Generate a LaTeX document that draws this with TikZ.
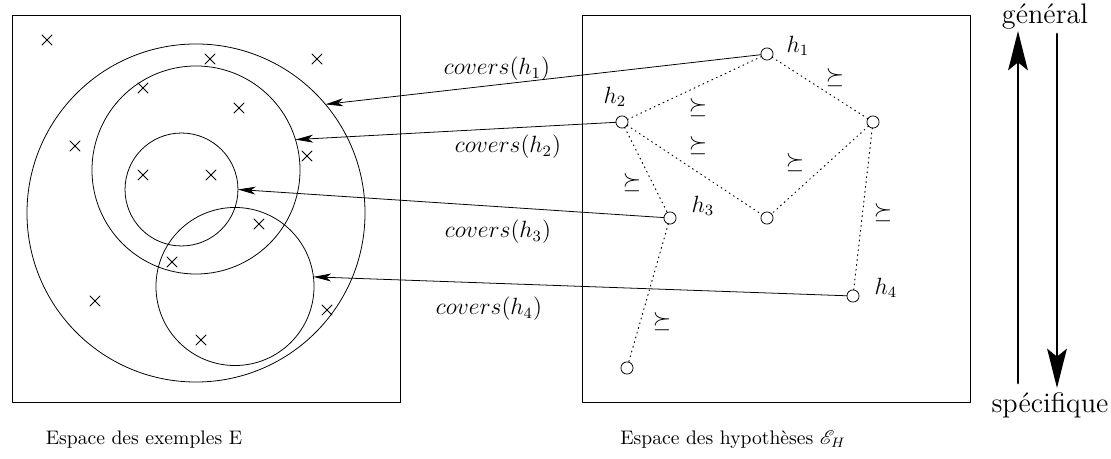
\documentclass[tikz,border=0pt]{standalone}
\usepackage{amssymb}
\usepackage{mathrsfs}
\usetikzlibrary{arrows.meta}

\tikzset{
  ens/.style={draw, circle, inner sep=0pt, outer sep=0pt},
  hyp/.style={draw, circle, inner sep=0pt, outer sep=0pt, minimum size=6.2pt, fill=white},
  ordre/.style={dotted, line width=0.5pt},
  couvre/.style={-{Stealth[length=9pt,width=4pt,inset=2.5pt]}},
  sens/.style={line width=1.4pt, -{Stealth[length=20pt,width=10pt,inset=4pt]}},
  etiq/.style={font=\large},
}

\begin{document}
\begin{tikzpicture}[
  x=0.51pt,
  y=-0.51pt,
  line cap=round,
  line join=round
]
  \useasboundingbox (0,0) rectangle (1111,459);

  % Espace des exemples
  \draw (12,15) rectangle (400,402);
  \node[ens, minimum size=172.4pt] (c1) at (196,213) {};
  \node[ens, minimum size=106.1pt] (c2) at (196,170) {};
  \node[ens, minimum size=57.6pt] (c3) at (181.5,189.5) {};
  \node[ens, minimum size=80.6pt] (c4) at (235,286.5) {};

  % Exemples
  \foreach \x/\y in {47/40, 210/59, 317/59, 143/88, 239/108, 75/146,
                     307/156, 143/175, 211/175, 259/224, 172/262,
                     95/301, 327/310, 201/340}
    \draw (\x-5,\y-5) -- (\x+5,\y+5) (\x-5,\y+5) -- (\x+5,\y-5);

  % Espace des hypotheses
  \draw (582,15) rectangle (970,402);
  \node[hyp] (h1) at (767,54) {};
  \node[hyp] (h2) at (622,122) {};
  \node[hyp] (hd) at (873,122) {};
  \node[hyp] (h3) at (670,218) {};
  \node[hyp] (hm) at (767,218) {};
  \node[hyp] (h4) at (853,296) {};
  \node[hyp] (hb) at (627,368) {};

  \node[etiq] (lh1) at (798,46) {$h_1$};
  \node[etiq] (lh2) at (615,97) {$h_2$};
  \node[etiq] (lh3) at (703,206) {$h_3$};
  \node[etiq] (lh4) at (886,288) {$h_4$};

  % Relation de generalite
  \draw[ordre] (h1) -- (h2);
  \draw[ordre] (h1) -- (hd);
  \draw[ordre] (h2) -- (hm);
  \draw[ordre] (hd) -- (hm);
  \draw[ordre] (h2) -- (h3);
  \draw[ordre] (h3) -- (hb);
  \draw[ordre] (hd) -- (h4);

  \node[etiq] (o1) at (835,78) {$\succeq$};
  \node[etiq] (o2) at (698,108) {$\succeq$};
  \node[etiq] (o3) at (698,146) {$\succeq$};
  \node[etiq] (o4) at (795,163) {$\succeq$};
  \node[etiq] (o5) at (632,183) {$\succeq$};
  \node[etiq] (o6) at (883,213) {$\succeq$};
  \node[etiq] (o7) at (662,322) {$\succeq$};

  % Couverture
  \draw[couvre] (h1) -- (c1.40);
  \draw[couvre] (h2) -- (c2.17);
  \draw[couvre] (h3) -- (c3.0);
  \draw[couvre] (h4) -- (c4.7);

  \node[etiq] (cv1) at (497,69) {$covers(h_1)$};
  \node[etiq] (cv2) at (508,147) {$covers(h_2)$};
  \node[etiq] (cv3) at (498,232) {$covers(h_3)$};
  \node[etiq] (cv4) at (489,309) {$covers(h_4)$};

  % Sens general / specifique
  \node[font=\Large] (gen) at (1045,17) {général};
  \node[font=\Large] (spe) at (1050,405) {spécifique};
  \coordinate (up0) at (1018,383);
  \coordinate (up1) at (1018,31);
  \coordinate (dn0) at (1057,34);
  \coordinate (dn1) at (1057,388);
  \draw[sens] (up0) -- (up1);
  \draw[sens] (dn0) -- (dn1);

  % Titres
  \node (t1) at (144,440) {Espace des exemples E};
  \node (t2) at (733,440) {Espace des hypothèses $\mathscr{E}_H$};
\end{tikzpicture}
\end{document}
